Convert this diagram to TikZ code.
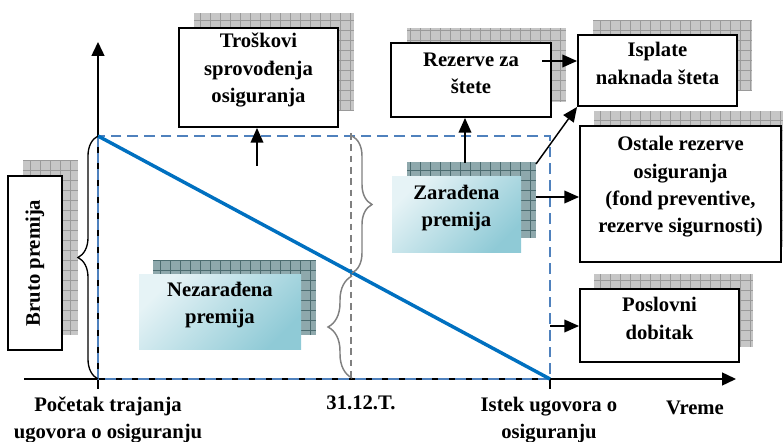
\documentclass[tikz,border=0pt]{standalone}
\usepackage{fontspec}
\setmainfont{Liberation Serif}
\usetikzlibrary{arrows.meta,fit,decorations.pathreplacing,shadings}

\definecolor{dashblue}{HTML}{4F81BD}
\definecolor{lineblue}{HTML}{0070C0}
\definecolor{shgray}{HTML}{C6C6C6}
\definecolor{shgrayline}{HTML}{9A9A9A}
\definecolor{shteal}{HTML}{8EA8AC}
\definecolor{shtealline}{HTML}{4C6C70}
\definecolor{gradlight}{HTML}{E6F3F6}
\definecolor{graddark}{HTML}{8FCAD6}
\definecolor{bracegray}{HTML}{808080}

\newcommand{\gridshadow}[4]{%
  \begin{scope}
    \clip #3 rectangle #4;
    \fill[#1] #3 rectangle #4;
    \draw[#2, line width=0.6pt, step=7.5pt] #3 grid #4;
  \end{scope}}

\tikzset{
  box/.style={draw, line width=1.4pt, fill=white, inner sep=0pt, align=center},
  gradbox/.style={inner sep=0pt, align=center, top color=gradlight, bottom color=graddark, shading angle=45},
  conn/.style={line width=1.1pt, -{Triangle[length=11pt,width=9.5pt]}},
  axis/.style={line width=1.1pt},
  lbl/.style={align=center, inner sep=0pt},
  gbrace/.style={bracegray, line width=1.1pt, decorate},
}

\begin{document}
\begin{tikzpicture}[x=0.75pt,y=-0.75pt, font=\fontsize{15.5}{20.5}\selectfont\bfseries]
\useasboundingbox (0,0) rectangle (783,442);

% shadows
\gridshadow{shgray}{shgrayline}{(23,160)}{(78,335)}
\gridshadow{shgray}{shgrayline}{(194,13)}{(354,111)}
\gridshadow{shgray}{shgrayline}{(407,28)}{(566,102)}
\gridshadow{shgray}{shgrayline}{(593,20)}{(752,91)}
\gridshadow{shgray}{shgrayline}{(594,111)}{(783,247)}
\gridshadow{shgray}{shgrayline}{(594,274)}{(753,347)}
\gridshadow{shteal}{shtealline}{(407,162)}{(536,238)}
\gridshadow{shteal}{shtealline}{(153,260)}{(316,335)}

% axes
\coordinate (O) at (98,379);
\coordinate (T) at (98,136);
\coordinate (E) at (550,379);
\coordinate (xs) at (24,379);
\coordinate (xe) at (736,379);
\coordinate (ys) at (98,389);
\coordinate (ye) at (98,42);
\coordinate (et) at (550,389);
\draw[axis, -{Triangle[length=10.5pt,width=9.75pt]}] (xs) -- (xe);
\draw[axis, -{Triangle[length=10.5pt,width=9.75pt]}] (ys) -- (ye);
\draw[axis] (E) -- (et);

% dashed rectangle and guides
\draw[dashblue, line width=1.5pt, dash pattern=on 8pt off 4.5pt] (T) rectangle (E);
\draw[bracegray, line width=1.1pt, dash pattern=on 5pt off 3.5pt] (351,133) -- (351,379);
\draw[lineblue, line width=2.6pt] (T) -- (E);

% braces
\draw[gbrace, decoration={brace, amplitude=15pt}] (352,136) -- (352,273);
\draw[gbrace, decoration={brace, amplitude=18pt}] (352,378) -- (352,276);
\draw[line width=1pt, decorate, decoration={brace, amplitude=15pt}] (98,379) -- (98,136);

% boxes
\node[box, rotate=90, minimum width=130.5pt, minimum height=40.5pt] (bruto) at (35,263) {Bruto premija};
\node[box, fit={(179,28) (338,127)}] (trosk) {Troškovi\\sprovođenja\\osiguranja};
\node[box, fit={(391,43) (551,117)}] (rez) {Rezerve za\\štete};
\node[box, fit={(578,35) (737,106)}] (isp) {Isplate\\naknada šteta};
\node[box, fit={(580,126) (781,262)}] (ost) {Ostale rezerve\\osiguranja\\(fond preventive,\\rezerve sigurnosti)};
\node[box, fit={(580,289) (739,362)}] (posl) {Poslovni\\dobitak};
\node[gradbox, fit={(392,177) (521,253)}] (zar) {Zarađena\\premija};
\node[gradbox, fit={(139,275) (301,350)}] (nez) {Nezarađena\\premija};

% connectors
\coordinate (a1) at (257,166);
\draw[conn] (a1) -- (a1 |- trosk.south);
\coordinate (a2) at (542,61);
\draw[conn] (a2) -- (a2 -| isp.west);
\coordinate (a3) at (465,163);
\draw[conn] (a3) -- (a3 |- rez.south);
\coordinate (a4) at (536,164);
\draw[conn] (a4) -- (isp.south west);
\coordinate (a5) at (536,197);
\draw[conn] (a5) -- (a5 -| ost.west);
\coordinate (a6) at (550,326);
\draw[conn] (a6) -- (a6 -| posl.west);

% labels
\node[lbl] (lpoc) at (108,420) {Početak trajanja\\ugovora o osiguranju};
\node[lbl] (l31) at (361,403) {31.12.T.};
\node[lbl] (list) at (549,420) {Istek ugovora o\\osiguranju};
\node[lbl] (lvr) at (695,408) {Vreme};
\end{tikzpicture}
\end{document}
